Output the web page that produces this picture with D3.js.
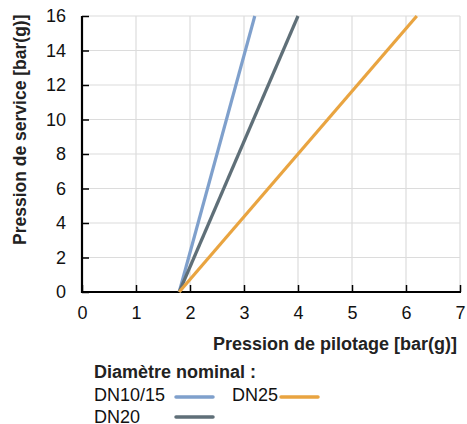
<!DOCTYPE html>
<html><head><meta charset="utf-8">
<script src="https://cdn.jsdelivr.net/npm/d3@7"></script>
<style>body{margin:0;background:#fff}svg{display:block;font-family:"Liberation Sans",Arial,sans-serif}</style>
</head><body><svg id="c" width="467" height="424"></svg>
<script>
const xTicks = [0,1,2,3,4,5,6,7];
const yTicks = [0,2,4,6,8,10,12,14,16];
const seriesNames = ["DN10/15","DN20","DN25"];
const seriesColors = ["#7fa0cc","#5f6f78","#e9a440"];
const dn1015 = [[1.8,0],[3.2,16]];
const dn20 = [[1.8,0],[4.0,16]];
const dn25 = [[1.8,0],[6.2,16]];
const seriesData = [dn1015, dn20, dn25];
const xLabel = "Pression de pilotage [bar(g)]";
const yLabel = "Pression de service [bar(g)]";
const legendTitle = "Diamètre nominal :";

const svg = d3.select("#c");
const L=82,R=460,T=16,B=292;
const x = d3.scaleLinear().domain([0,7]).range([L,R]);
const y = d3.scaleLinear().domain([0,16]).range([B,T]);

// grid
svg.append("g").selectAll("line").data(xTicks.slice(1)).join("line")
  .attr("x1",d=>x(d)).attr("x2",d=>x(d)).attr("y1",T).attr("y2",B)
  .attr("stroke","#dcdcdc").attr("stroke-width",1.2);
svg.append("g").selectAll("line").data(yTicks.slice(1)).join("line")
  .attr("x1",L).attr("x2",R).attr("y1",d=>y(d)).attr("y2",d=>y(d))
  .attr("stroke","#dcdcdc").attr("stroke-width",1.2);

// axes
const fmt = d3.format("d");
const xa = svg.append("g").attr("transform",`translate(0,${B})`)
  .call(d3.axisBottom(x).tickValues(xTicks).tickFormat(fmt).tickSizeInner(-7).tickSizeOuter(0).tickPadding(14));
const ya = svg.append("g").attr("transform",`translate(${L},0)`)
  .call(d3.axisLeft(y).tickValues(yTicks).tickFormat(fmt).tickSizeInner(-7).tickSizeOuter(0).tickPadding(16));
[xa,ya].forEach(a=>{
  a.attr("font-size",null).attr("font-family",null);
  a.select(".domain").attr("stroke","#000").attr("stroke-width",2.2);
  a.selectAll(".tick line").attr("stroke","#000").attr("stroke-width",1.5);
  a.selectAll(".tick text").style("font-size","18px").attr("fill","#111");
});
ya.select(".domain").attr("d",`M0,${T}V${B+1}`);
xa.select(".domain").attr("d",`M${L-1},0H${R+1}`);

// lines
const line = d3.line().x(d=>x(d[0])).y(d=>y(d[1]));
svg.append("g").selectAll("path").data(seriesData).join("path")
  .attr("d",line).attr("fill","none")
  .attr("stroke",(d,i)=>seriesColors[i]).attr("stroke-width",3.2);

// titles
svg.append("text").attr("x",457).attr("y",350).attr("text-anchor","end")
  .style("font-size","18px").attr("font-weight","bold").attr("fill","#222").text(xLabel);
svg.append("text").attr("transform","translate(26,245) rotate(-90)").attr("text-anchor","start")
  .style("font-size","17.5px").attr("font-weight","bold").attr("fill","#222").text(yLabel);

// legend
svg.append("text").attr("x",94).attr("y",378).style("font-size","18px").attr("font-weight","bold").attr("fill","#222").text(legendTitle);
const leg = [
  {t:0, tx:94, ty:401, lx1:176, lx2:213, ly:397},
  {t:1, tx:94, ty:423, lx1:176, lx2:213, ly:417},
  {t:2, tx:232, ty:401, lx1:281, lx2:318, ly:397}
];
leg.forEach(o=>{
  svg.append("text").attr("x",o.tx).attr("y",o.ty).style("font-size","18px").attr("fill","#111").text(seriesNames[o.t]);
  svg.append("line").attr("x1",o.lx1).attr("x2",o.lx2).attr("y1",o.ly).attr("y2",o.ly)
    .attr("stroke",seriesColors[o.t]).attr("stroke-width",3.5).attr("stroke-linecap","round");
});
</script></body></html>
